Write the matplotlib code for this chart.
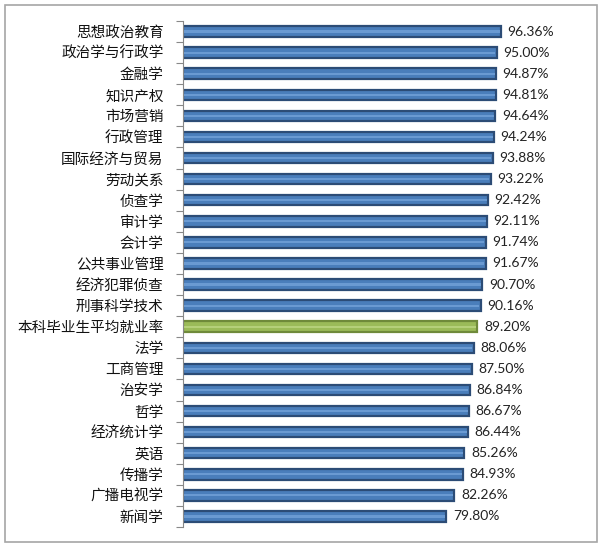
import matplotlib.pyplot as plt
from matplotlib.patches import Rectangle
from matplotlib.ticker import FixedLocator

plt.rcParams['font.family'] = ['Noto Sans CJK SC', 'DejaVu Sans']

majors = ['思想政治教育', '政治学与行政学', '金融学', '知识产权', '市场营销', '行政管理',
          '国际经济与贸易', '劳动关系', '侦查学', '审计学', '会计学', '公共事业管理',
          '经济犯罪侦查', '刑事科学技术', '本科毕业生平均就业率', '法学', '工商管理',
          '治安学', '哲学', '经济统计学', '英语', '传播学', '广播电视学', '新闻学']
rates = [96.36, 95.00, 94.87, 94.81, 94.64, 94.24, 93.88, 93.22, 92.42, 92.11, 91.74,
         91.67, 90.70, 90.16, 89.20, 88.06, 87.50, 86.84, 86.67, 86.44, 85.26, 84.93,
         82.26, 79.80]
highlight = '本科毕业生平均就业率'

fig = plt.figure(figsize=(6, 5.48), dpi=100)
fig.patches.append(Rectangle((0.008, 0.011), 0.987, 0.98, transform=fig.transFigure,
                             fill=False, edgecolor='#a6a6a6', linewidth=1.2))

ax = fig.add_axes([0.305, 0.0383, 0.66, 0.9234])
y = list(range(len(majors)))
face = ['#9bbb59' if m == highlight else '#4a7ebb' for m in majors]
edge = ['#6f8a3a' if m == highlight else '#2c4c76' for m in majors]
shine = ['#b5d07a' if m == highlight else '#6a9ad2' for m in majors]

ax.barh(y, rates, height=0.5, color=face, edgecolor=edge, linewidth=1.6)
ax.barh(y, [r - 0.8 for r in rates], left=0.4, height=0.1, color=shine, linewidth=0)

for yi, r in zip(y, rates):
    ax.text(r + 2.0, yi, f'{r:.2f}%', va='center', ha='left', fontsize=10,
            family=['Lato', 'DejaVu Sans'], color='#222222')

ax.set_xlim(0, 120)
ax.set_ylim(len(majors) - 0.5, -0.5)
ax.set_yticks(y)
ax.set_yticklabels(majors, fontsize=10.5, color='#111111')
ax.yaxis.set_minor_locator(FixedLocator([i - 0.5 for i in range(len(majors) + 1)]))
ax.tick_params(axis='y', which='major', length=0, pad=14)
ax.tick_params(axis='y', which='minor', length=5, color='#888888', width=0.8)
ax.xaxis.set_visible(False)
for s in ['top', 'right', 'bottom']:
    ax.spines[s].set_visible(False)
ax.spines['left'].set_color('#888888')
ax.spines['left'].set_linewidth(0.8)

fig.savefig('out.png', dpi=100)
